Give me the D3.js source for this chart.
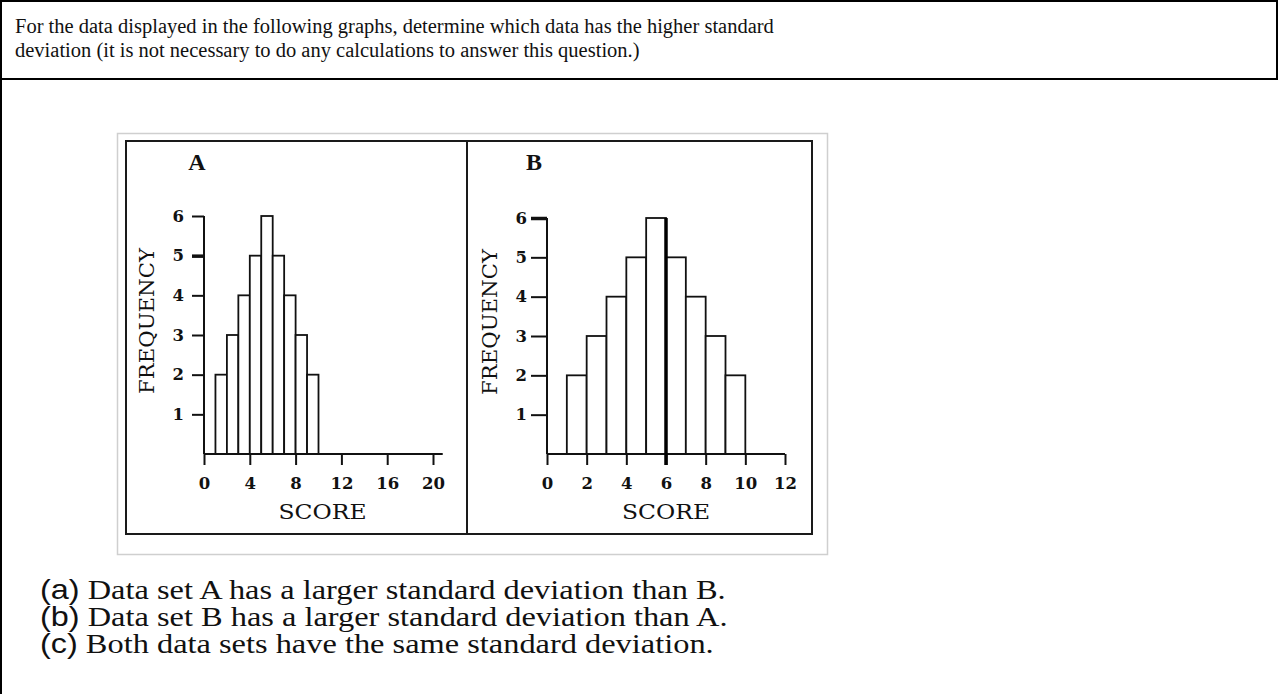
<!DOCTYPE html>
<html>
<head>
<meta charset="utf-8">
<script src="https://cdn.jsdelivr.net/npm/d3@7"></script>
<style>
  html, body { margin: 0; padding: 0; background: #fff; }
  svg text { fill: #111; }
  .axis path, .axis line { stroke: #111; stroke-width: 2; }
  .axis text { font-family: "DejaVu Serif", serif; font-size: 16.5px; font-weight: bold; fill: #111; }
</style>
</head>
<body>
<div id="page"></div>
<script>
// question text
const headerLines = [
    "For the data displayed in the following graphs, determine which data has the higher standard",
    "deviation (it is not necessary to do any calculations to answer this question.)"
];
const optionLabels = ["(a)", "(b)", "(c)"];
const optionTexts = [
    "Data set A has a larger standard deviation than B.",
    "Data set B has a larger standard deviation than A.",
    "Both data sets have the same standard deviation."
];

// histogram data (bin start, bin width 1)
const binStarts = [1, 2, 3, 4, 5, 6, 7, 8, 9];
const freqA = [2, 3, 4, 5, 6, 5, 4, 3, 2];
const freqB = [2, 3, 4, 5, 6, 5, 4, 3, 2];
const yTicks = [1, 2, 3, 4, 5, 6];
const xTicksA = [0, 4, 8, 12, 16, 20];
const xTicksB = [0, 2, 4, 6, 8, 10, 12];

const W = 1278, H = 694;

const svg = d3.select("#page").append("svg")
    .attr("width", W)
    .attr("height", H);

// table borders
svg.append("line").attr("x1", 0).attr("x2", W).attr("y1", 1).attr("y2", 1)
    .attr("stroke", "#000").attr("stroke-width", 2);
svg.append("line").attr("x1", 1).attr("x2", 1).attr("y1", 0).attr("y2", H)
    .attr("stroke", "#000").attr("stroke-width", 2);
svg.append("line").attr("x1", W - 1).attr("x2", W - 1).attr("y1", 0).attr("y2", 79)
    .attr("stroke", "#000").attr("stroke-width", 2);
svg.append("line").attr("x1", 0).attr("x2", W).attr("y1", 79).attr("y2", 79)
    .attr("stroke", "#000").attr("stroke-width", 2);

// question
svg.selectAll(".header")
    .data(headerLines)
    .enter().append("text")
    .attr("class", "header")
    .attr("x", 15)
    .attr("y", (d, i) => 33 + i * 24)
    .style("font-family", "'Liberation Serif', 'Times New Roman', serif")
    .style("font-size", "20.5px")
    .text(d => d);

// picture frame
svg.append("rect")
    .attr("x", 117.5).attr("y", 133.5).attr("width", 710).attr("height", 421)
    .attr("fill", "none").attr("stroke", "#cfcfcf").attr("stroke-width", 1.5);
svg.append("rect")
    .attr("x", 126).attr("y", 141).attr("width", 686).attr("height", 393)
    .attr("fill", "none").attr("stroke", "#1a1a1a").attr("stroke-width", 2);
svg.append("line")
    .attr("x1", 467).attr("x2", 467).attr("y1", 141).attr("y2", 534)
    .attr("stroke", "#1a1a1a").attr("stroke-width", 2);

function drawPanel(cfg) {
    const g = svg.append("g");
    const x = d3.scaleLinear().domain(cfg.xDomain).range(cfg.xRange);
    const y = d3.scaleLinear().domain([0, 6]).range(cfg.yRange);

    // bars
    g.selectAll(".bar")
        .data(binStarts.map((b, i) => ({ start: b, value: cfg.values[i] })))
        .enter().append("rect")
        .attr("class", "bar")
        .attr("x", d => x(d.start))
        .attr("y", d => y(d.value))
        .attr("width", d => x(d.start + 1) - x(d.start))
        .attr("height", d => y(0) - y(d.value))
        .attr("fill", "#fff")
        .attr("stroke", "#111")
        .attr("stroke-width", 1.8);

    // x axis
    const xAxis = g.append("g")
        .attr("class", "axis")
        .attr("transform", "translate(0," + y(0) + ")")
        .call(d3.axisBottom(x).tickValues(cfg.xTicks).tickFormat(d3.format("d"))
            .tickSize(11).tickSizeOuter(0).tickPadding(12));
    xAxis.select(".domain").attr("d", "M" + x(cfg.xDomain[0]) + ",0H" + x(cfg.xEnd));

    // y axis
    const yAxis = g.append("g")
        .attr("class", "axis")
        .attr("transform", "translate(" + x(0) + ",0)")
        .call(d3.axisLeft(y).tickValues(yTicks).tickFormat(d3.format("d"))
            .tickSize(cfg.yTickSize).tickSizeOuter(0).tickPadding(cfg.yPad));
    yAxis.select(".domain").attr("d", "M0," + y(0) + "V" + y(6));
    yAxis.selectAll(".tick line")
        .filter(d => d === cfg.boldTick)
        .style("stroke-width", 3.5);

    // thick edge
    if (cfg.boldEdge !== null) {
        g.append("line")
            .attr("x1", x(cfg.boldEdge)).attr("x2", x(cfg.boldEdge))
            .attr("y1", y(0) + 11).attr("y2", y(6))
            .attr("stroke", "#000").attr("stroke-width", 3.5);
    }

    // panel letter
    g.append("text")
        .attr("x", cfg.labelX)
        .attr("y", 170)
        .attr("text-anchor", "middle")
        .style("font-family", "'Liberation Serif', serif")
        .style("font-weight", "bold")
        .style("font-size", "24px")
        .text(cfg.label);

    // axis titles
    g.append("text")
        .attr("x", (x(0) + x(cfg.xDomain[1])) / 2 + cfg.scoreShift)
        .attr("y", 519)
        .attr("text-anchor", "middle")
        .attr("textLength", 88)
        .attr("lengthAdjust", "spacingAndGlyphs")
        .style("font-family", "'DejaVu Serif', serif")
        .style("font-size", "21px")
        .text("SCORE");

    g.append("text")
        .attr("transform", "translate(" + cfg.freqX + "," + (y(3) - 14) + ") rotate(-90)")
        .attr("text-anchor", "middle")
        .attr("textLength", 146)
        .attr("lengthAdjust", "spacingAndGlyphs")
        .style("font-family", "'DejaVu Serif', serif")
        .style("font-size", "21px")
        .text("FREQUENCY");
}

drawPanel({
    label: "A", labelX: 197, values: freqA,
    xDomain: [0, 20], xRange: [204, 433], xEnd: 20.85, xTicks: xTicksA,
    yRange: [454, 216], yTickSize: 12, yPad: 8,
    boldTick: 5, boldEdge: null, scoreShift: 4, freqX: 154
});

drawPanel({
    label: "B", labelX: 534, values: freqB,
    xDomain: [0, 12], xRange: [547, 785], xEnd: 12, xTicks: xTicksB,
    yRange: [454, 218], yTickSize: 16, yPad: 4,
    boldTick: 6, boldEdge: 6, scoreShift: 0, freqX: 497
});

// answer options (wide setting, as in the source)
const opts = svg.selectAll(".option")
    .data(optionTexts)
    .enter().append("text")
    .attr("class", "option")
    .attr("transform", (d, i) => "translate(40," + (599 + i * 27) + ") scale(1.2,1)")
    .style("font-size", "27px");

opts.append("tspan")
    .style("font-family", "'Liberation Sans', Arial, sans-serif")
    .text((d, i) => optionLabels[i]);

opts.append("tspan")
    .style("font-family", "'Liberation Serif', 'Times New Roman', serif")
    .text(d => " " + d);
</script>
</body>
</html>
